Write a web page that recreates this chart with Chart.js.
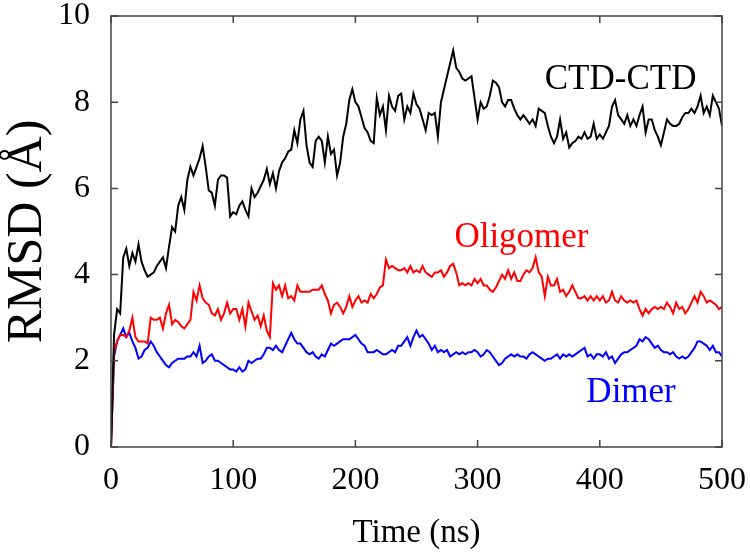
<!DOCTYPE html>
<html>
<head>
<meta charset="utf-8">
<script src="https://cdn.jsdelivr.net/npm/chart.js@4.4.1/dist/chart.umd.min.js"></script>
<style>
  body { margin: 0; background: #fff; }
  #wrap { width: 750px; height: 555px; }
</style>
</head>
<body>
<div id="wrap"><canvas id="rmsd"></canvas></div>
<script>
// sampling grid, ns (every 2.5 ns)
const time = Array.from({ length: 201 }, (_, i) => i * 2.5);

const xTicks = [0, 100, 200, 300, 400, 500];
const yTicks = [0, 2, 4, 6, 8, 10];

// RMSD values (Angstrom)
const ctd = [
  0, 2.6, 3.2, 3.1, 4.4, 4.6, 4.2, 4.5, 4.3, 4.7,
  4.3, 4.1, 3.95, 4.0, 4.05, 4.2, 4.3, 4.4, 4.15, 4.65,
  5.1, 5.0, 5.6, 5.8, 5.5, 6.2, 6.5, 6.3, 6.5, 6.7,
  6.98, 6.5, 5.95, 5.9, 5.6, 6.2, 6.3, 6.3, 6.25, 5.35,
  5.45, 5.4, 5.6, 5.7, 5.5, 5.35, 6.0, 5.8, 5.9, 6.05,
  6.2, 6.45, 6.1, 6.35, 6.0, 6.4, 6.6, 6.7, 6.85, 6.9,
  7.35, 7.05, 7.6, 7.8, 7.0, 6.6, 6.5, 7.1, 7.2, 7.1,
  6.6, 7.2, 6.8, 6.9, 6.3, 6.6, 7.2, 7.5, 8.05, 8.3,
  8.0, 7.9, 7.65, 7.4, 7.3, 7.1, 7.05, 8.1, 7.7, 7.9,
  7.35, 8.15, 7.9, 7.8, 8.15, 8.2, 7.6, 7.9, 7.75, 8.2,
  7.95, 7.85, 7.6, 7.35, 7.75, 7.7, 7.75, 7.2, 8.0, 8.3,
  8.6, 8.9, 9.2, 8.8, 8.7, 8.55, 8.5, 8.55, 8.6, 8.1,
  7.6, 8.0, 7.85, 7.9, 8.15, 8.5, 8.45, 8.35, 8.0, 7.9,
  8.05, 8.05, 7.85, 7.7, 7.6, 7.7, 7.6, 7.5, 7.6, 7.45,
  7.85, 7.8, 7.75, 7.45, 7.2, 7.05, 7.2, 7.6, 7.15, 7.3,
  6.95, 7.05, 7.1, 7.2, 7.15, 7.3, 7.15, 7.2, 7.5, 7.15,
  7.25, 7.15, 7.3, 7.45, 7.9, 8.05, 7.7, 7.6, 7.5, 7.7,
  7.45, 7.6, 7.45, 7.7, 7.9, 7.3, 7.6, 7.6, 7.35, 7.2,
  7.0, 7.3, 7.6, 7.5, 7.45, 7.45, 7.5, 7.65, 7.75, 7.75,
  7.85, 7.75, 7.9, 8.15, 7.75, 7.9, 7.7, 8.15, 8.0, 7.85,
  7.45
];

const oligomer = [
  0, 2.2, 2.45, 2.6, 2.6, 2.55, 2.7, 3.0, 2.55, 2.45,
  2.45, 2.45, 2.4, 3.0, 2.95, 2.95, 3.0, 2.75, 3.1, 3.3,
  2.85, 2.95, 2.9, 2.8, 2.75, 2.85, 2.95, 3.6, 3.4, 3.75,
  3.45, 3.35, 3.3, 3.1, 3.05, 3.2, 2.95, 3.1, 3.35, 3.1,
  3.2, 3.2, 2.95, 3.2, 2.8, 3.35, 3.15, 2.95, 3.05, 2.8,
  3.05, 2.7, 2.55, 3.8, 3.65, 3.75, 3.5, 3.75, 3.45, 3.5,
  3.4, 3.75, 3.6, 3.6, 3.6, 3.6, 3.65, 3.65, 3.65, 3.75,
  3.55, 3.4, 3.1, 3.3, 3.35, 3.25, 3.1, 3.25, 3.5, 3.25,
  3.4, 3.5, 3.35, 3.4, 3.35, 3.55, 3.45, 3.55, 3.7, 3.75,
  4.35, 4.15, 4.2, 4.15, 4.1, 4.1, 4.15, 4.05, 4.2, 4.05,
  4.1, 4.05, 4.2, 4.05, 4.0, 3.95, 4.05, 4.05, 4.1, 3.95,
  4.05, 4.2, 4.25, 4.05, 3.75, 3.8, 3.75, 3.8, 3.75, 3.9,
  3.8, 3.9, 3.75, 3.75, 3.65, 3.6, 3.7, 3.85, 4.0, 3.9,
  4.1, 3.9, 4.05, 3.85, 3.85, 4.0, 4.1, 4.05, 4.15, 4.4,
  4.05, 3.95, 3.5, 3.95, 3.75, 3.75, 3.9, 3.6, 3.65, 3.5,
  3.6, 3.75, 3.6, 3.45, 3.45, 3.5, 3.4, 3.5, 3.4, 3.5,
  3.4, 3.5, 3.35, 3.4, 3.6, 3.4, 3.35, 3.5, 3.4, 3.35,
  3.4, 3.35, 3.4, 3.2, 3.05, 3.2, 3.1, 3.2, 3.25, 3.2,
  3.25, 3.2, 3.35, 3.25, 3.1, 3.35, 3.2, 3.25, 3.1, 3.2,
  3.35, 3.5, 3.35, 3.6, 3.5, 3.35, 3.4, 3.35, 3.3, 3.2,
  3.25
];

const dimer = [
  0, 2.1, 2.45, 2.6, 2.75, 2.55, 2.65, 2.45, 2.3, 2.05,
  2.1, 2.25, 2.3, 2.45, 2.35, 2.2, 2.1, 2.0, 1.9, 1.85,
  1.95, 2.0, 2.05, 2.05, 2.05, 2.1, 2.1, 2.2, 2.1, 2.35,
  1.95, 2.0, 2.1, 2.15, 2.0, 2.0, 1.95, 1.9, 1.85, 1.8,
  1.8, 1.75, 1.85, 1.75, 1.8, 2.0, 1.95, 2.0, 2.05, 2.05,
  2.15, 2.3, 2.3, 2.25, 2.35, 2.25, 2.2, 2.35, 2.5, 2.65,
  2.5, 2.4, 2.4, 2.3, 2.2, 2.15, 2.2, 2.1, 2.05, 2.15,
  2.1, 2.25, 2.4, 2.35, 2.4, 2.45, 2.5, 2.5, 2.5, 2.55,
  2.6, 2.5, 2.4, 2.35, 2.2, 2.2, 2.2, 2.25, 2.2, 2.15,
  2.15, 2.2, 2.25, 2.2, 2.35, 2.35, 2.45, 2.55, 2.35, 2.55,
  2.7, 2.55, 2.6, 2.5, 2.4, 2.25, 2.35, 2.2, 2.25, 2.2,
  2.25, 2.1, 2.15, 2.2, 2.15, 2.2, 2.15, 2.2, 2.2, 2.25,
  2.2, 2.1, 2.15, 2.25, 2.2, 2.1, 2.0, 1.9, 1.95, 2.05,
  2.1, 2.15, 2.1, 2.15, 2.1, 2.1, 2.05, 2.15, 2.2, 2.15,
  2.1, 2.05, 2.0, 2.05, 2.05, 2.1, 2.15, 2.05, 2.15, 2.1,
  2.15, 2.1, 2.15, 2.2, 2.25, 2.3, 2.1, 2.15, 2.05, 2.15,
  2.15, 2.1, 2.2, 2.05, 2.1, 1.95, 2.05, 2.15, 2.2, 2.2,
  2.25, 2.3, 2.35, 2.5, 2.45, 2.55, 2.5, 2.4, 2.3, 2.35,
  2.25, 2.2, 2.2, 2.15, 2.2, 2.1, 2.05, 2.1, 2.05, 2.1,
  2.2, 2.3, 2.45, 2.45, 2.4, 2.35, 2.25, 2.35, 2.2, 2.2,
  2.1
];

const serif = "'Liberation Serif', 'Times New Roman', serif";

// curve names written inside the plot
const curveNames = [
  { text: 'CTD-CTD', color: '#000000', at: [417, 8.3], align: 'center' },
  { text: 'Oligomer', color: '#ff0000', at: [281, 4.65], align: 'left' },
  { text: 'Dimer', color: '#0000ff', at: [389, 1.05], align: 'left' }
];

// box round the plot, inward ticks on all four sides, curve names
const framePlugin = {
  id: 'framePlugin',
  afterDatasetsDraw(chart) {
    const { ctx, chartArea: a, scales: { x, y } } = chart;
    ctx.save();
    ctx.strokeStyle = '#444';
    ctx.lineWidth = 1.5;
    ctx.strokeRect(a.left, a.top, a.right - a.left, a.bottom - a.top);
    ctx.beginPath();
    xTicks.forEach(v => {
      const px = x.getPixelForValue(v);
      ctx.moveTo(px, a.bottom); ctx.lineTo(px, a.bottom - 7);
      ctx.moveTo(px, a.top); ctx.lineTo(px, a.top + 7);
    });
    yTicks.forEach(v => {
      const py = y.getPixelForValue(v);
      ctx.moveTo(a.left, py); ctx.lineTo(a.left + 7, py);
      ctx.moveTo(a.right, py); ctx.lineTo(a.right - 7, py);
    });
    ctx.stroke();

    ctx.font = '35px ' + serif;
    ctx.textBaseline = 'alphabetic';
    curveNames.forEach(n => {
      ctx.fillStyle = n.color;
      ctx.textAlign = n.align;
      ctx.fillText(n.text, x.getPixelForValue(n.at[0]), y.getPixelForValue(n.at[1]));
    });
    ctx.restore();
  }
};

new Chart(document.getElementById('rmsd'), {
  type: 'line',
  data: {
    labels: time,
    datasets: [
      { label: 'CTD-CTD', data: ctd, borderColor: '#000000', order: 1 },
      { label: 'Oligomer', data: oligomer, borderColor: '#ff0000', order: 2 },
      { label: 'Dimer', data: dimer, borderColor: '#0000ff', order: 3 }
    ]
  },
  options: {
    responsive: true,
    maintainAspectRatio: false,
    animation: false,
    events: [],
    layout: { padding: { top: 16, right: 28, bottom: 0, left: 0 } },
    elements: {
      point: { radius: 0 },
      line: { borderWidth: 2, tension: 0 }
    },
    plugins: {
      legend: { display: false },
      tooltip: { enabled: false }
    },
    scales: {
      x: {
        type: 'linear',
        min: 0,
        max: 500,
        afterFit: s => {
          s.height = 108;
          s.paddingLeft = 0;
          s.paddingRight = 0;
        },
        afterBuildTicks: s => { s.ticks = xTicks.map(v => ({ value: v })); },
        grid: { display: false, drawTicks: false },
        border: { display: false },
        ticks: {
          color: '#000',
          padding: 18,
          maxRotation: 0,
          font: { family: serif, size: 32, lineHeight: 1 }
        },
        title: {
          display: true,
          text: 'Time (ns)',
          color: '#000',
          padding: { top: 0, bottom: 5 },
          font: { family: serif, size: 33, lineHeight: 1 }
        }
      },
      y: {
        min: 0,
        max: 10,
        afterFit: s => {
          s.width = 111;
          s.paddingTop = 0;
          s.paddingBottom = 0;
        },
        afterBuildTicks: s => { s.ticks = yTicks.map(v => ({ value: v })); },
        grid: { display: false, drawTicks: false },
        border: { display: false },
        ticks: {
          color: '#000',
          padding: 21,
          font: { family: serif, size: 32, lineHeight: 1 }
        },
        title: {
          display: true,
          text: 'RMSD (Å)',
          color: '#000',
          padding: { top: 3, bottom: 0 },
          font: { family: serif, size: 50, lineHeight: 1 }
        }
      }
    }
  },
  plugins: [framePlugin]
});
</script>
</body>
</html>
